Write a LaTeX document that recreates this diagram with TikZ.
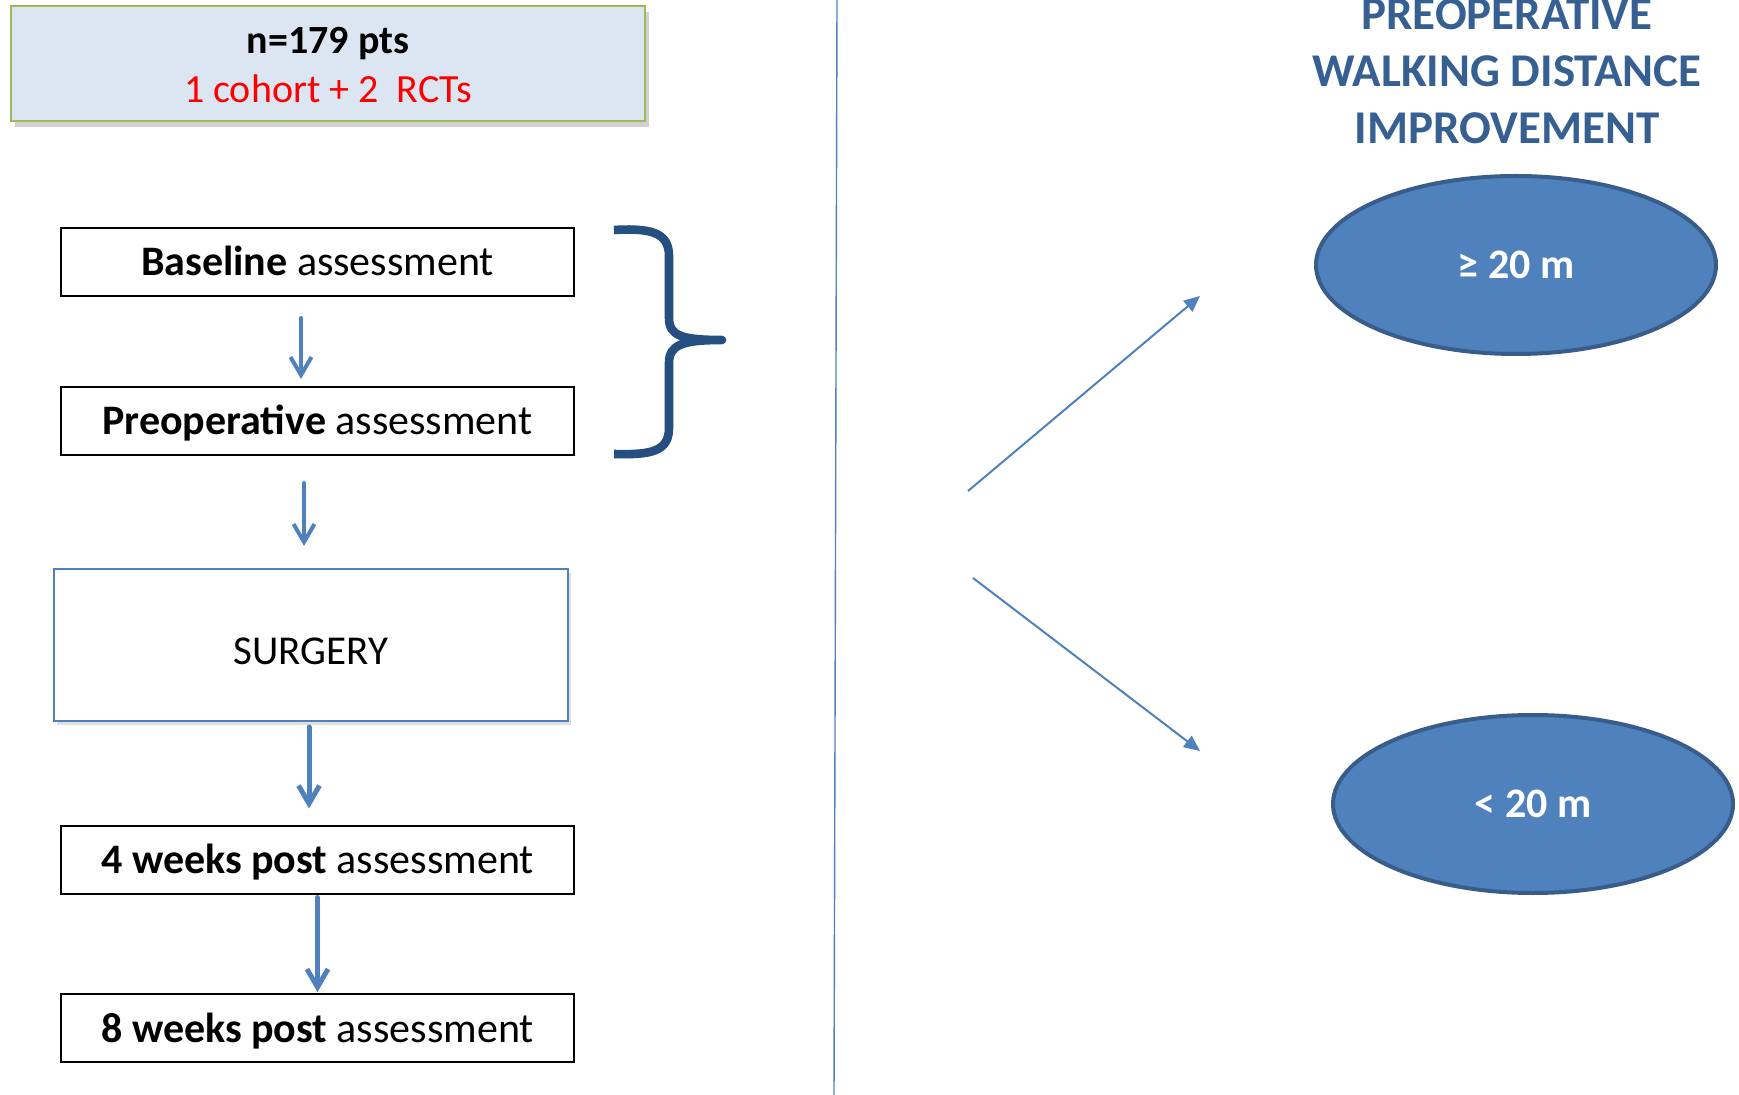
\documentclass[tikz,border=0pt]{standalone}
\usepackage{fontspec}
\setmainfont{Carlito}
\usetikzlibrary{arrows.meta,shadows,shapes.geometric}
\definecolor{topfill}{HTML}{DCE6F2}
\definecolor{topborder}{HTML}{9BBB59}
\definecolor{arrowblue}{HTML}{4F81BD}
\definecolor{bracecol}{HTML}{254F80}
\definecolor{titlecol}{HTML}{376092}
\definecolor{ellfill}{HTML}{4F81BD}
\definecolor{ellborder}{HTML}{385D8A}
\begin{document}
\begin{tikzpicture}[x=0.5pt,y=-0.5pt,
  assessbox/.style={draw=black, line width=1pt, minimum width=256.5pt, minimum height=34pt,
    inner sep=0pt, fill=white, text height=14pt, text depth=0pt,
    font=\fontsize{21}{25}\selectfont},
  downarr/.style={draw=arrowblue, line cap=round, -{Straight Barb[length=9pt,width=10.5pt]}},
  diagarr/.style={draw=arrowblue, line width=1pt, -{Triangle[length=8pt,width=7pt]}},
  ellnode/.style={ellipse, draw=ellborder, line width=2pt, fill=ellfill, minimum width=200pt,
    minimum height=89pt, inner sep=0pt, text=white, font=\fontsize{21}{25}\selectfont\bfseries}
]
\useasboundingbox (0,0) rectangle (1739,1095);

% top box
\node[draw=topborder, line width=1pt, fill=topfill, minimum width=317pt, minimum height=57.5pt,
  inner sep=0pt, align=center, font=\fontsize{20}{24}\selectfont,
  drop shadow={shadow xshift=2pt, shadow yshift=-3pt, opacity=0.3, fill=black!60}]
  (top) at (328,63.5) {};
\node[align=center, inner sep=0pt, font=\fontsize{20}{24}\selectfont] at (328,65.5)
  {\textbf{n=179 pts}\\[0.5pt]\textcolor{red}{1 cohort + 2\ \ RCTs}};

% left column boxes
\node[assessbox] (base) at (317.5,262) {\textbf{Baseline} assessment};
\node[assessbox] (pre) at (317.5,421) {\textbf{Preoperative} assessment};
\node[draw=arrowblue, line width=1pt, fill=white, minimum width=257pt, minimum height=76pt,
  inner sep=0pt, font=\fontsize{20.5}{24}\selectfont, text height=19.6pt, text depth=0pt,
  drop shadow={shadow xshift=1.5pt, shadow yshift=-2pt, opacity=0.12, fill=black}]
  (surg) at (311,645) {SURGERY};
\node[assessbox] (w4) at (317.5,859.5) {\textbf{4 weeks post} assessment};
\node[assessbox] (w8) at (317.5,1028) {\textbf{8 weeks post} assessment};

% down arrows
\draw[downarr, line width=2pt] ([xshift=-8.25pt,yshift=-10.5pt]base.south) -- ([xshift=-8.25pt,yshift=3.5pt]pre.north);
\draw[downarr, line width=2pt] ([xshift=-6.75pt,yshift=-13.5pt]pre.south) -- ([xshift=-3.5pt,yshift=11pt]surg.north);
\draw[downarr, line width=2.5pt] ([xshift=-1pt,yshift=-2.5pt]surg.south) -- ([xshift=-4.25pt,yshift=8pt]w4.north);
\draw[downarr, line width=2.5pt] ([yshift=-1.5pt]w4.south) -- ([yshift=0.5pt]w8.north);

% brace
\draw[bracecol, line width=4.3pt, line join=round]
  (614,230) .. controls (650,228) and (669,232) .. (669,256) -- (669,318)
  .. controls (669,336) and (682,340) .. (722,340)
  .. controls (682,340) and (669,345) .. (669,363) -- (669,428)
  .. controls (669,452) and (650,455) .. (614,454);

% divider
\coordinate (vtop) at (837,0);
\coordinate (vbot) at (834,1095);
\draw[arrowblue, line width=0.7pt] (vtop) -- (vbot);

% title
\node[text=titlecol, align=center, inner sep=0pt, font=\fontsize{23.5}{28.5}\selectfont\bfseries]
  (title) at (1507,71) {PREOPERATIVE\\WALKING DISTANCE\\IMPROVEMENT};

% ellipses
\node[ellnode] (e1) at (1516,265) {≥ 20 m};
\node[ellnode] (e2) at (1533,804) {< 20 m};

% diagonal arrows
\coordinate (s1) at (968,491);
\coordinate (t1) at (1200,296);
\coordinate (s2) at (973,578);
\coordinate (t2) at (1200,751);
\draw[diagarr] (s1) -- (t1);
\draw[diagarr] (s2) -- (t2);
\end{tikzpicture}
\end{document}
